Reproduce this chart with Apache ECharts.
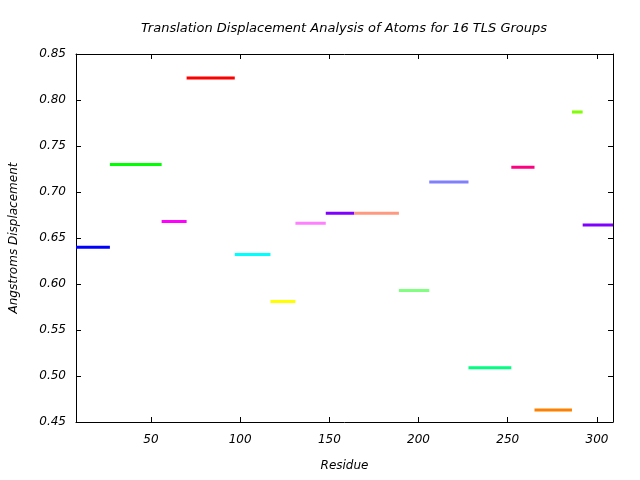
<!DOCTYPE html>
<html>
<head>
<meta charset="utf-8">
<script src="https://cdn.jsdelivr.net/npm/echarts@6/dist/echarts.min.js"></script>
<style>html,body{margin:0;padding:0;background:#fff}#c{width:640px;height:480px}</style>
</head>
<body>
<div id="c"></div>
<script>
var segStart = [8, 27, 56, 70, 97, 117, 131, 148, 164, 189, 206, 228, 252, 265, 286, 292];
var segEnd   = [27, 56, 70, 97, 117, 131, 148, 164, 189, 206, 228, 252, 265, 286, 292, 309];
var segValue = [0.640, 0.730, 0.668, 0.824, 0.632, 0.581, 0.666, 0.677, 0.677, 0.593, 0.711, 0.509, 0.727, 0.463, 0.787, 0.664];
var segColor = ['#0000ff', '#00ff00', '#ff00ff', '#ff0000', '#00ffff', '#ffff00', '#ff80ff', '#8000ff',
                '#ff9980', '#80ff80', '#8080ff', '#00ff80', '#ff0080', '#ff8000', '#80ff00', '#8000ff'];
var xTicks = [50, 100, 150, 200, 250, 300];
var yTicks = [0.45, 0.50, 0.55, 0.60, 0.65, 0.70, 0.75, 0.80, 0.85];
var xMin = 8, xMax = 309, yMin = 0.45, yMax = 0.85;

var font = 'DejaVu Sans';
var series = segValue.map(function (v, i) {
  return {
    type: 'line',
    data: [[segStart[i], v], [segEnd[i], v]],
    symbol: 'none',
    lineStyle: { color: segColor[i], width: 3 },
    itemStyle: { color: segColor[i] },
    animation: false,
    silent: true
  };
});

var axisLineStyle = { show: true, lineStyle: { color: '#000', width: 1 } };
var chart = echarts.init(document.getElementById('c'), null, { renderer: 'canvas' });
chart.setOption({
  backgroundColor: '#fff',
  animation: false,
  title: {
    text: 'Translation Displacement Analysis of Atoms for 16 TLS Groups',
    left: 339, top: 17, textAlign: 'center',
    textStyle: { fontFamily: font, fontSize: 13, fontStyle: 'italic', fontWeight: 'normal', color: '#000' }
  },
  grid: { left: 76, right: 27, top: 54, bottom: 58, containLabel: false },
  xAxis: [{
    type: 'value', min: xMin, max: xMax, position: 'bottom',
    name: 'Residue', nameLocation: 'middle', nameGap: 38,
    nameTextStyle: { fontFamily: font, fontSize: 12, fontStyle: 'italic', color: '#000' },
    axisLine: axisLineStyle,
    axisTick: { show: true, inside: true, length: 5, customValues: xTicks, lineStyle: { color: '#000' } },
    axisLabel: { customValues: xTicks, margin: 12, fontFamily: font, fontSize: 12, fontStyle: 'italic', color: '#000' },
    splitLine: { show: false }
  }, {
    type: 'value', min: xMin, max: xMax, position: 'top',
    axisLine: axisLineStyle,
    axisTick: { show: true, inside: true, length: 5, customValues: xTicks, lineStyle: { color: '#000' } },
    axisLabel: { show: false },
    splitLine: { show: false }
  }],
  yAxis: [{
    type: 'value', min: yMin, max: yMax, position: 'left',
    name: 'Angstroms Displacement', nameLocation: 'middle', nameGap: 56,
    nameTextStyle: { fontFamily: font, fontSize: 12, fontStyle: 'italic', color: '#000' },
    axisLine: axisLineStyle,
    axisTick: { show: true, inside: true, length: 5, customValues: yTicks, lineStyle: { color: '#000' } },
    axisLabel: { customValues: yTicks, margin: 10, fontFamily: font, fontSize: 12, fontStyle: 'italic', color: '#000',
      formatter: function (v) { return v.toFixed(2); } },
    splitLine: { show: false }
  }, {
    type: 'value', min: yMin, max: yMax, position: 'right',
    axisLine: axisLineStyle,
    axisTick: { show: true, inside: true, length: 5, customValues: yTicks, lineStyle: { color: '#000' } },
    axisLabel: { show: false },
    splitLine: { show: false }
  }],
  series: series
});
</script>
</body>
</html>
